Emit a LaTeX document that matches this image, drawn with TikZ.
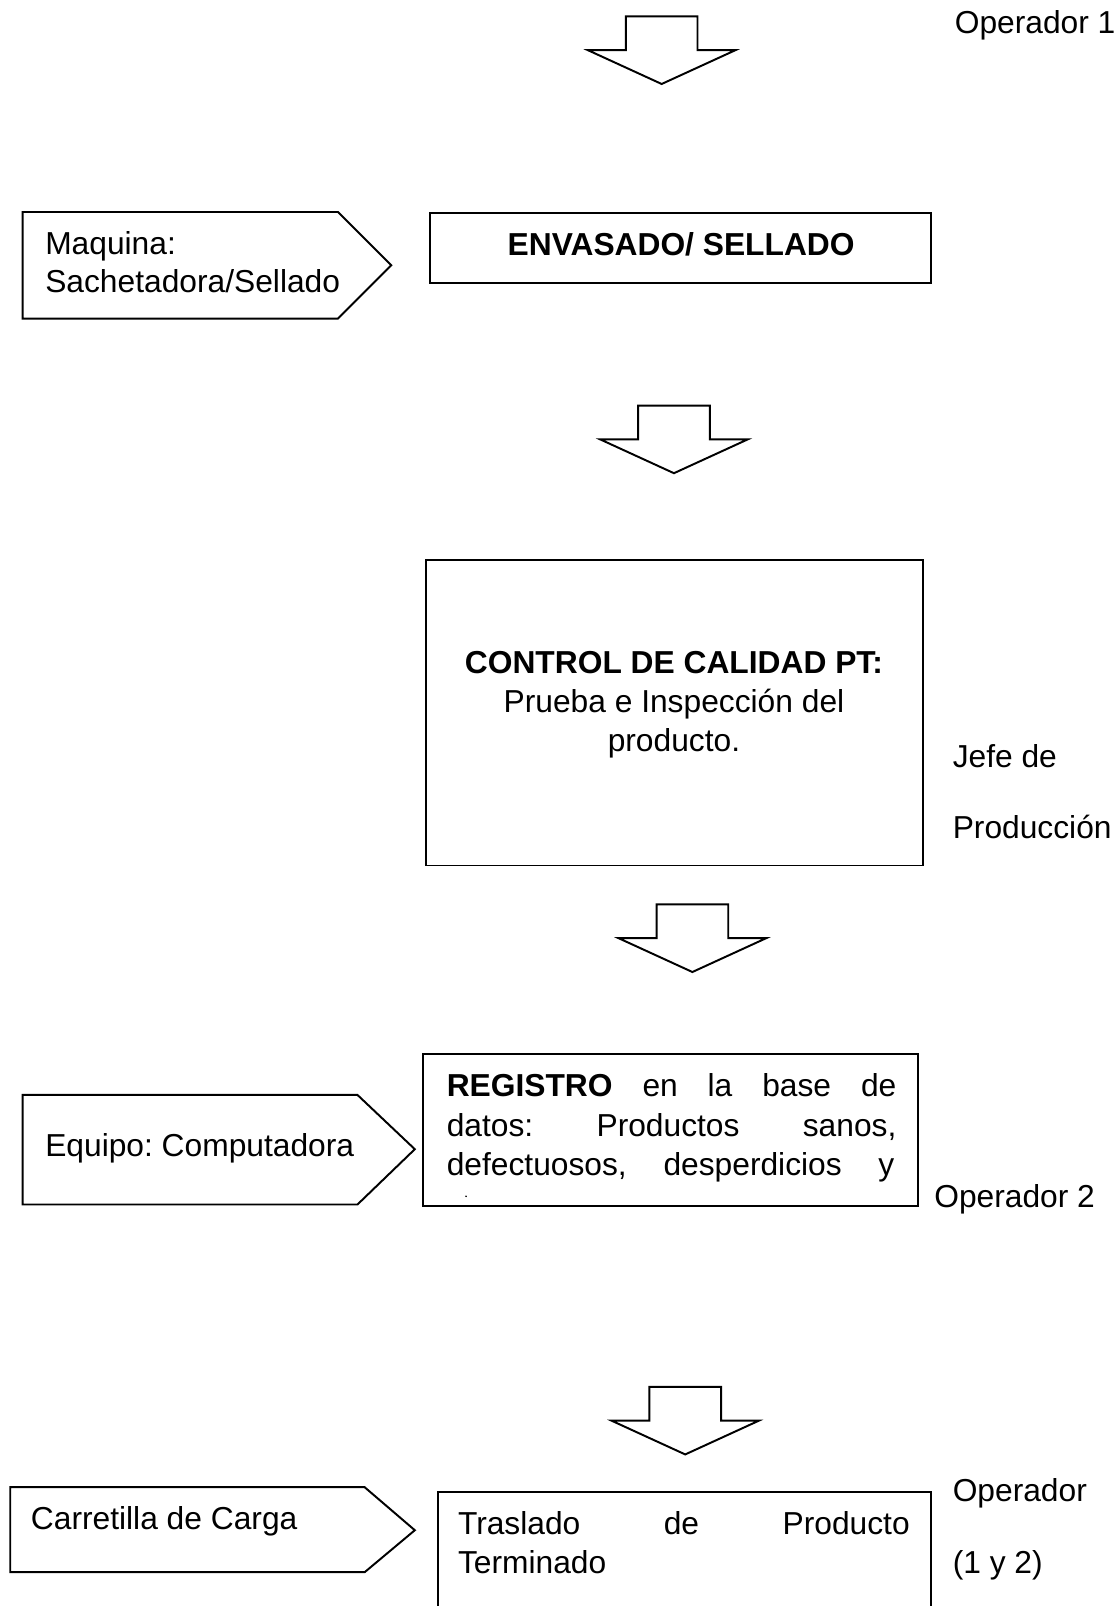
\documentclass[tikz,border=0pt]{standalone}
\usepackage{fontspec}
\setmainfont{Liberation Sans}
\frenchspacing
\begin{document}
\begin{tikzpicture}[x=1pt,y=-1pt,
  outline/.style={draw, line width=1.9pt, line join=miter},
  txt/.style={anchor=base west, inner sep=0pt, font=\fontsize{31}{37.5}\selectfont},
  ctxt/.style={txt, anchor=base},
  blockdown/.pic={\draw[outline] (-35,0) -- (35,0) -- (35,33) -- (72,33) -- (0,66)
                   -- (-72,33) -- (-35,33) -- cycle;}]
\useasboundingbox (0,0) rectangle (1090,1568);
\clip (0,0) rectangle (1090,1568);

% flow arrows
\pic at (646,16)   {blockdown};
\pic at (658,396)  {blockdown};
\pic at (676,883)  {blockdown};
\pic at (669,1354) {blockdown};

% resource tags (pentagons)
\draw[outline] (22,207) -- (330,207) -- (382,259) -- (330,311) -- (22,311) -- cycle;
\draw[outline] (22,1069) -- (349,1069) -- (405,1122) -- (349,1176) -- (22,1176) -- cycle;
\draw[outline] (10,1452) -- (356,1452) -- (405,1494) -- (356,1535) -- (10,1535) -- cycle;

% process boxes
\draw[outline] (420,208) rectangle (909,276);
\draw[outline] (416,547) rectangle (901,845);
\draw[outline] (413,1029) rectangle (896,1177);
\draw[outline] (428,1457) rectangle (909,1600);

% texts
\node[txt] (op1) at (932,33) {Operador 1};
\node[txt] (maq1) at (44,248) {Maquina:};
\node[txt] (maq2) at (44,286) {Sachetadora/Sellado};
\node[ctxt] (env) at (665,249) {\bfseries ENVASADO/ SELLADO};

\node[ctxt] (cc1) at (658,658) {\bfseries CONTROL DE CALIDAD PT:};
\node[ctxt] (cc2) at (658,696) {Prueba e Inspección del};
\node[ctxt] (cc3) at (658,734) {producto.};
\node[txt] (jefe1) at (930,749) {Jefe de};
\node[txt] (jefe2) at (930,819) {Producción};

\node[txt] (equipo) at (44,1129) {Equipo: Computadora};
\node[txt] (reg1) at (436,1071) {\hbox to 439pt{{\bfseries REGISTRO}\hfill en\hfill la\hfill base\hfill de}};
\node[txt] (reg2) at (436,1110) {\hbox to 439pt{datos:\hfill Productos\hfill sanos,}};
\node[txt] (reg3) at (436,1148) {\hbox to 437pt{defectuosos,\hfill desperdicios\hfill y}};
\fill (455,1168) circle (0.9pt);
\node[txt] (op2) at (912,1179) {Operador 2};

\node[txt] (carga) at (30,1493) {Carretilla de Carga};
\node[txt] (tras1) at (447,1498) {\hbox to 441pt{Traslado\hfill de\hfill Producto}};
\node[txt] (tras2) at (447,1536) {Terminado};
\node[txt] (op12a) at (930,1466) {Operador};
\node[txt] (op12b) at (930,1536) {(1 y 2)};
\end{tikzpicture}
\end{document}
